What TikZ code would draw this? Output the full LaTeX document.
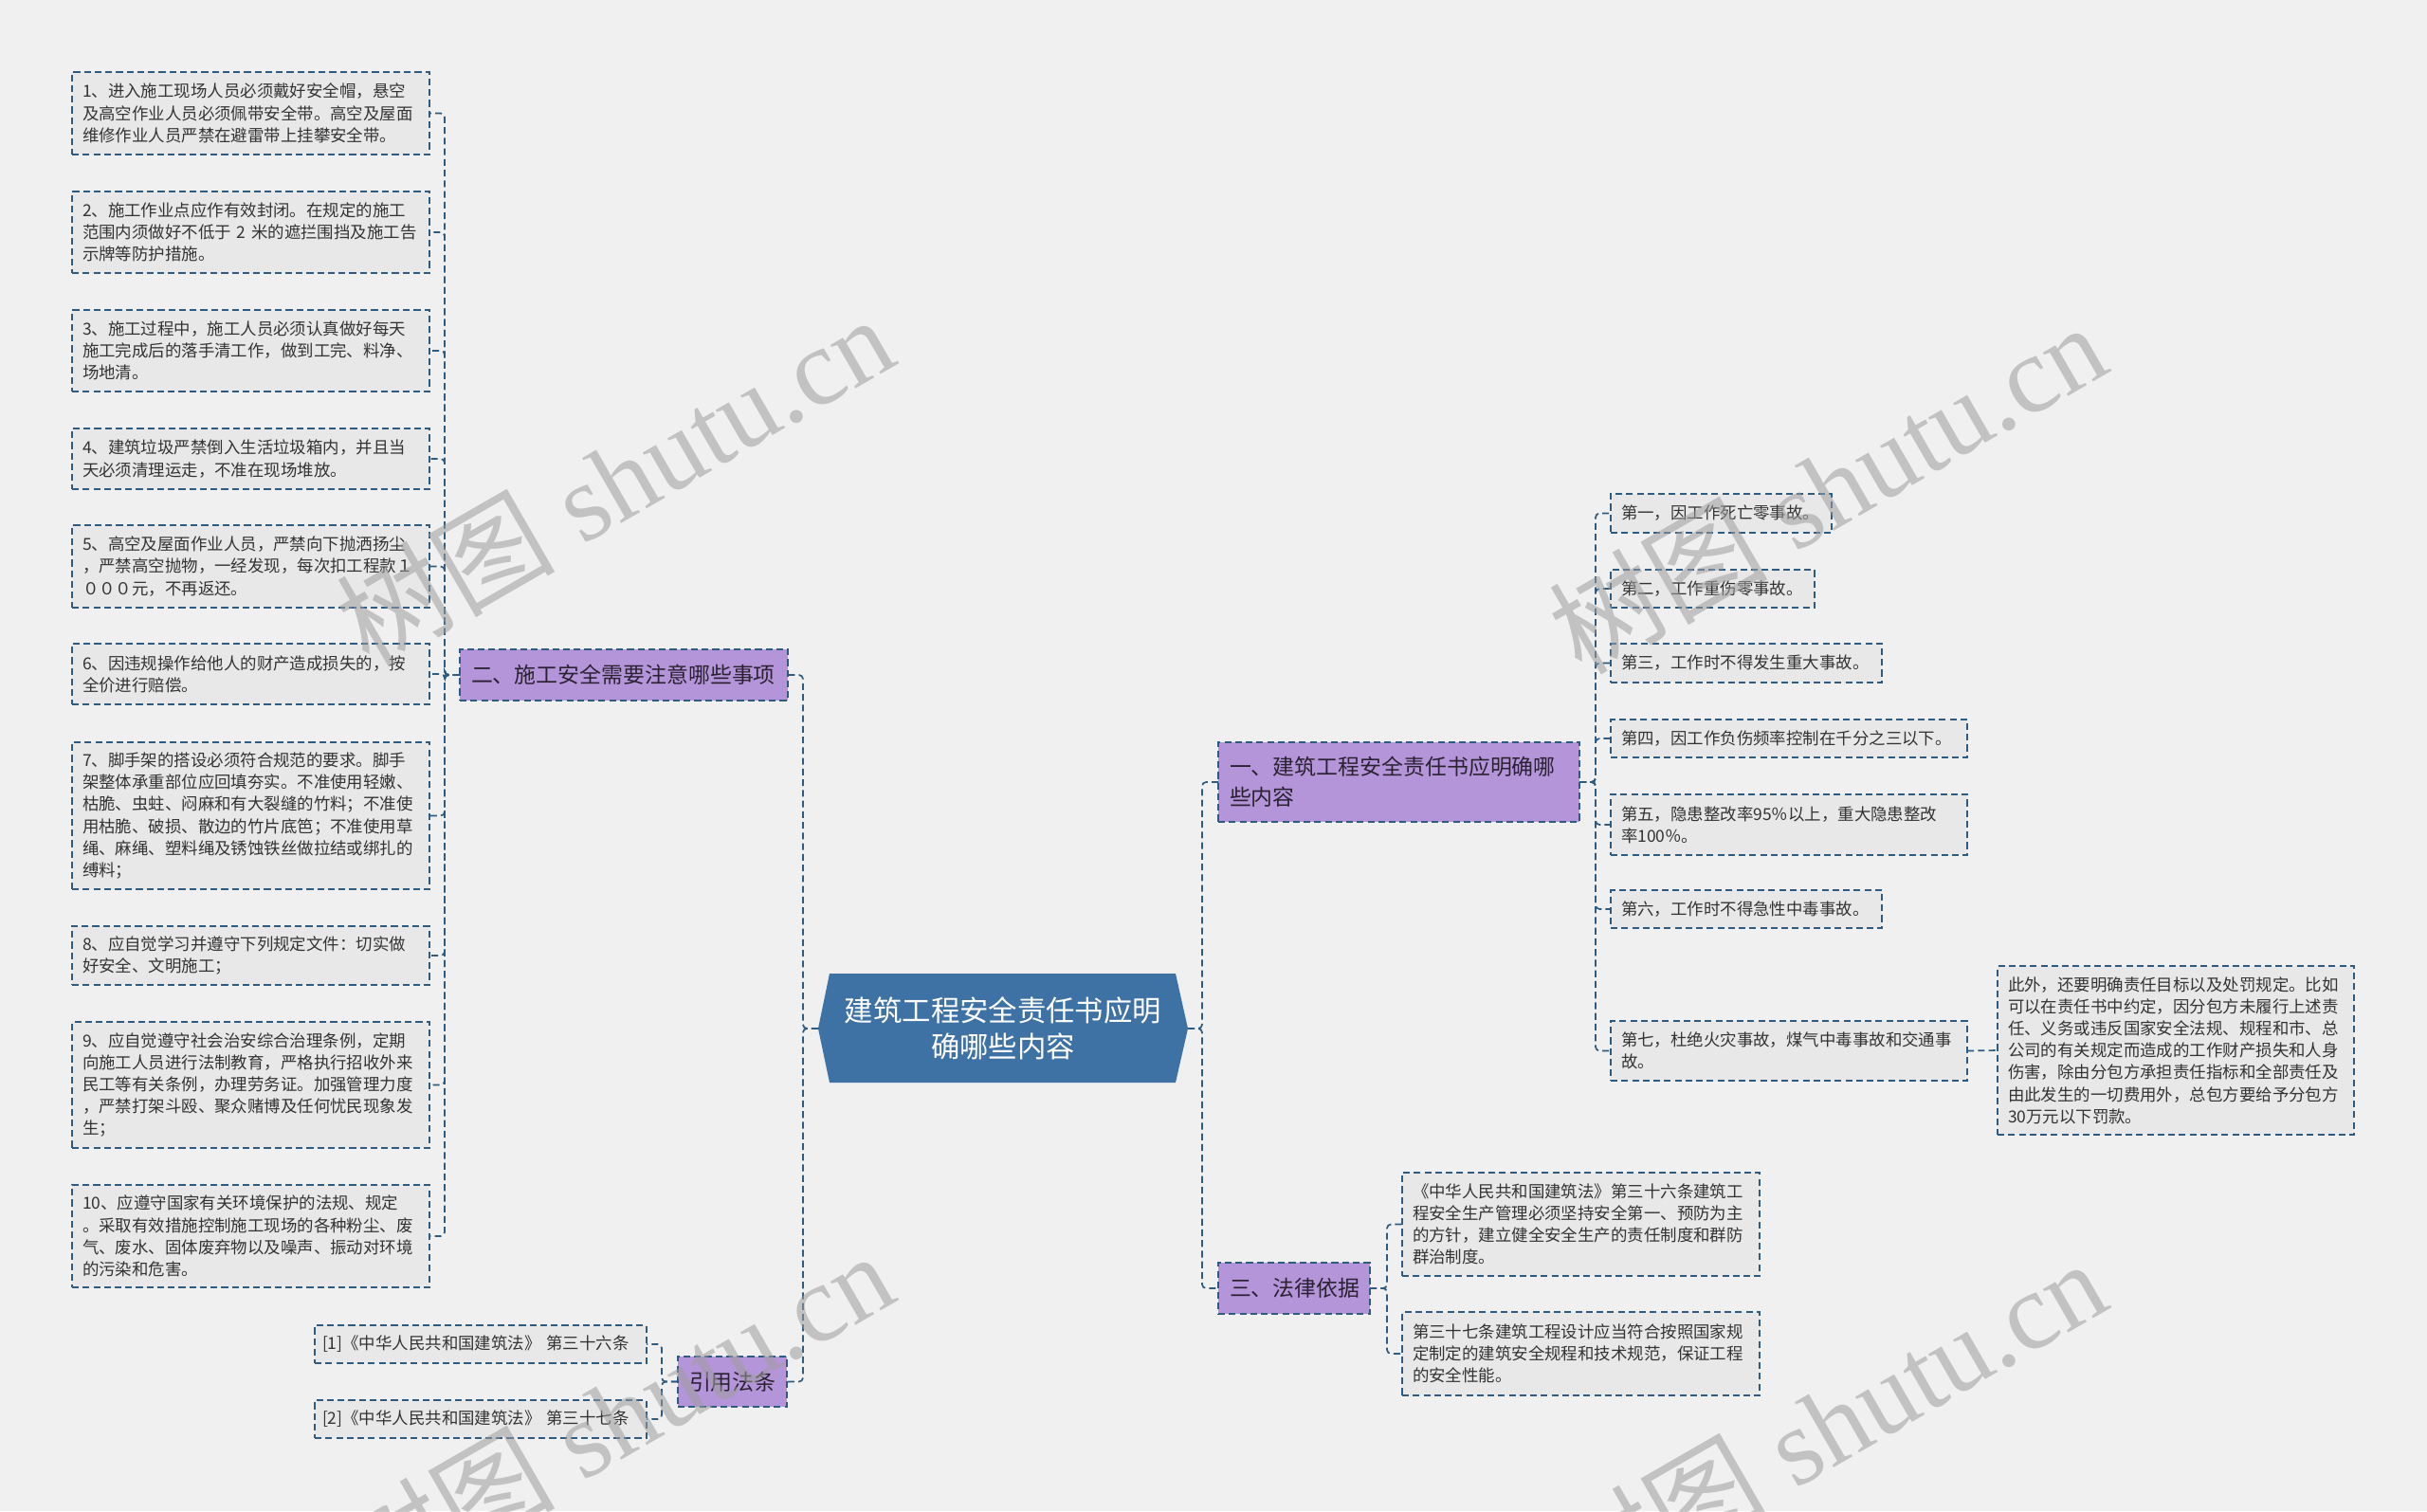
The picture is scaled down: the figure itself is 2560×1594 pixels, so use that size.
\documentclass[tikz,border=0pt]{standalone}
\usepackage{fontspec}
\setmainfont{Noto Sans CJK SC}
\newfontfamily\wmfont{Liberation Serif}

\newdimen\pxu \pxu=0.025cm
\definecolor{bgc}{HTML}{F0F0F0}
\definecolor{leaff}{HTML}{E8E8E8}
\definecolor{linec}{HTML}{2F5B80}
\definecolor{txtc}{HTML}{333333}
\definecolor{topicf}{HTML}{B595D9}
\definecolor{topict}{HTML}{2A2233}
\definecolor{rootc}{HTML}{3F72A4}
\definecolor{wmc}{HTML}{9E9E9E}

\begin{document}
\begin{tikzpicture}[x=0.025cm, y=-0.025cm,
  leaf/.style={draw=linec, line width=1.2pt, dash pattern=on 5pt off 3pt, fill=leaff,
    text=txtc, font=\fontsize{12.4}{16.5}\selectfont, align=left, anchor=north west,
    inner xsep=11\pxu, inner ysep=0pt, outer sep=0pt},
  topic/.style={leaf, fill=topicf, text=topict, font=\fontsize{16.3}{22.7}\selectfont, inner xsep=12\pxu},
  rootnode/.style={text=white, font=\fontsize{21.6}{27}\selectfont, align=center,
    minimum width=390\pxu, minimum height=115\pxu, inner sep=0pt, outer sep=0pt},
  link/.style={draw=linec, line width=1.2pt, dash pattern=on 5pt off 3pt, rounded corners=3pt},
  wmark/.style={text=wmc, text opacity=0.55, font=\fontsize{82}{82}\selectfont, rotate=30}]

% page
\useasboundingbox (0,0) rectangle (2560,1594);
\fill[bgc] (0,0) rectangle (2560,1594);

% root hexagon
\fill[rootc] (863,1085) -- (875,1027) -- (1240,1027) -- (1253,1085) -- (1240,1142) -- (875,1142) -- cycle;
\node[rootnode] (root) at (1058,1085) {建筑工程安全责任书应明\\确哪些内容};

% left: second topic and its items
\node[topic, text width=322\pxu, minimum height=54\pxu] (sec2) at (485,685) {二、施工安全需要注意哪些事项};
\node[leaf, text width=355\pxu, minimum height=87\pxu] (l1) at (76,76) {1、进入施工现场人员必须戴好安全帽，悬空\\及高空作业人员必须佩带安全带。高空及屋面\\维修作业人员严禁在避雷带上挂攀安全带。};
\node[leaf, text width=355\pxu, minimum height=86\pxu] (l2) at (76,202) {2、施工作业点应作有效封闭。在规定的施工\\范围内须做好不低于 2 米的遮拦围挡及施工告\\示牌等防护措施。};
\node[leaf, text width=355\pxu, minimum height=86\pxu] (l3) at (76,327) {3、施工过程中，施工人员必须认真做好每天\\施工完成后的落手清工作，做到工完、料净、\\场地清。};
\node[leaf, text width=355\pxu, minimum height=64\pxu] (l4) at (76,452) {4、建筑垃圾严禁倒入生活垃圾箱内，并且当\\天必须清理运走，不准在现场堆放。};
\node[leaf, text width=355\pxu, minimum height=87\pxu] (l5) at (76,554) {5、高空及屋面作业人员，严禁向下抛洒扬尘\\，严禁高空抛物，一经发现，每次扣工程款１\\０００元，不再返还。};
\node[leaf, text width=355\pxu, minimum height=64\pxu] (l6) at (76,679) {6、因违规操作给他人的财产造成损失的，按\\全价进行赔偿。};
\node[leaf, text width=355\pxu, minimum height=155\pxu] (l7) at (76,783) {7、脚手架的搭设必须符合规范的要求。脚手\\架整体承重部位应回填夯实。不准使用轻嫩、\\枯脆、虫蛀、闷麻和有大裂缝的竹料；不准使\\用枯脆、破损、散边的竹片底笆；不准使用草\\绳、麻绳、塑料绳及锈蚀铁丝做拉结或绑扎的\\缚料；};
\node[leaf, text width=355\pxu, minimum height=62\pxu] (l8) at (76,977) {8、应自觉学习并遵守下列规定文件：切实做\\好安全、文明施工；};
\node[leaf, text width=355\pxu, minimum height=133\pxu] (l9) at (76,1078) {9、应自觉遵守社会治安综合治理条例，定期\\向施工人员进行法制教育，严格执行招收外来\\民工等有关条例，办理劳务证。加强管理力度\\，严禁打架斗殴、聚众赌博及任何忧民现象发\\生；};
\node[leaf, text width=355\pxu, minimum height=108\pxu] (l10) at (76,1250) {10、应遵守国家有关环境保护的法规、规定\\。采取有效措施控制施工现场的各种粉尘、废\\气、废水、固体废弃物以及噪声、振动对环境\\的污染和危害。};

% left: cited laws
\node[topic, text width=91\pxu, minimum height=53\pxu] (cite) at (715,1431) {引用法条};
\node[leaf, text width=334\pxu, minimum height=40\pxu, inner xsep=8\pxu] (ref1) at (332,1398) {[1]《中华人民共和国建筑法》~第三十六条};
\node[leaf, text width=334\pxu, minimum height=40\pxu, inner xsep=8\pxu] (ref2) at (332,1477) {[2]《中华人民共和国建筑法》~第三十七条};

% right: first topic and its items
\node[topic, text width=357\pxu, minimum height=84\pxu] (sec1) at (1285,783) {一、建筑工程安全责任书应明确哪\\些内容};
\node[leaf, text width=211\pxu, minimum height=41\pxu] (c1) at (1699,521) {第一，因工作死亡零事故。};
\node[leaf, text width=193\pxu, minimum height=40\pxu] (c2) at (1699,601) {第二，工作重伤零事故。};
\node[leaf, text width=264\pxu, minimum height=41\pxu] (c3) at (1699,679) {第三，工作时不得发生重大事故。};
\node[leaf, text width=354\pxu, minimum height=40\pxu] (c4) at (1699,759) {第四，因工作负伤频率控制在千分之三以下。};
\node[leaf, text width=354\pxu, minimum height=64\pxu] (c5) at (1699,838) {第五，隐患整改率95％以上，重大隐患整改\\率100％。};
\node[leaf, text width=264\pxu, minimum height=40\pxu] (c6) at (1699,939) {第六，工作时不得急性中毒事故。};
\node[leaf, text width=354\pxu, minimum height=63\pxu] (c7) at (1699,1077) {第七，杜绝火灾事故，煤气中毒事故和交通事\\故。};
\node[leaf, text width=354\pxu, minimum height=178\pxu] (note) at (2107,1019) {此外，还要明确责任目标以及处罚规定。比如\\可以在责任书中约定，因分包方未履行上述责\\任、义务或违反国家安全法规、规程和市、总\\公司的有关规定而造成的工作财产损失和人身\\伤害，除由分包方承担责任指标和全部责任及\\由此发生的一切费用外，总包方要给予分包方\\30万元以下罚款。};

% right: third topic and its items
\node[topic, text width=136\pxu, minimum height=54\pxu] (sec3) at (1285,1332) {三、法律依据};
\node[leaf, text width=355\pxu, minimum height=109\pxu] (law1) at (1479,1237) {《中华人民共和国建筑法》第三十六条建筑工\\程安全生产管理必须坚持安全第一、预防为主\\的方针，建立健全安全生产的责任制度和群防\\群治制度。};
\node[leaf, text width=355\pxu, minimum height=88\pxu] (law2) at (1479,1384) {第三十七条建筑工程设计应当符合按照国家规\\定制定的建筑安全规程和技术规范，保证工程\\的安全性能。};

% root links
\draw[link] (root.west) -- ++(-16,0) |- (sec2.east);
\draw[link] (root.west) -- ++(-16,0) |- (cite.east);
\draw[link] (root.east) -- ++(15,0) |- (sec1.west);
\draw[link] (root.east) -- ++(15,0) |- (sec3.west);

% second topic links
\draw[link] (sec2.west) -- ++(-16,0) |- (l1.east);
\draw[link] (sec2.west) -- ++(-16,0) |- (l2.east);
\draw[link] (sec2.west) -- ++(-16,0) |- (l3.east);
\draw[link] (sec2.west) -- ++(-16,0) |- (l4.east);
\draw[link] (sec2.west) -- ++(-16,0) |- (l5.east);
\draw[link] (sec2.west) -- ++(-16,0) |- (l6.east);
\draw[link] (sec2.west) -- ++(-16,0) |- (l7.east);
\draw[link] (sec2.west) -- ++(-16,0) |- (l8.east);
\draw[link] (sec2.west) -- ++(-16,0) |- (l9.east);
\draw[link] (sec2.west) -- ++(-16,0) |- (l10.east);

% cited laws links
\draw[link] (cite.west) -- ++(-17,0) |- (ref1.east);
\draw[link] (cite.west) -- ++(-17,0) |- (ref2.east);

% first topic links
\draw[link] (sec1.east) -- ++(17,0) |- (c1.west);
\draw[link] (sec1.east) -- ++(17,0) |- (c2.west);
\draw[link] (sec1.east) -- ++(17,0) |- (c3.west);
\draw[link] (sec1.east) -- ++(17,0) |- (c4.west);
\draw[link] (sec1.east) -- ++(17,0) |- (c5.west);
\draw[link] (sec1.east) -- ++(17,0) |- (c6.west);
\draw[link] (sec1.east) -- ++(17,0) |- (c7.west);
\draw[link] (c7.east) -- (note.west);

% third topic links
\draw[link] (sec3.east) -- ++(18,0) |- (law1.west);
\draw[link] (sec3.east) -- ++(18,0) |- (law2.west);

% watermarks
\node[wmark] (wm1) at (648,506) {树图\hspace{0.25em}{\wmfont shutu.cn}};
\node[wmark] (wm2) at (1927,514) {树图\hspace{0.25em}{\wmfont shutu.cn}};
\node[wmark] (wm3) at (648,1494) {树图\hspace{0.25em}{\wmfont shutu.cn}};
\node[wmark] (wm4) at (1927,1502) {树图\hspace{0.25em}{\wmfont shutu.cn}};

\end{tikzpicture}
\end{document}
